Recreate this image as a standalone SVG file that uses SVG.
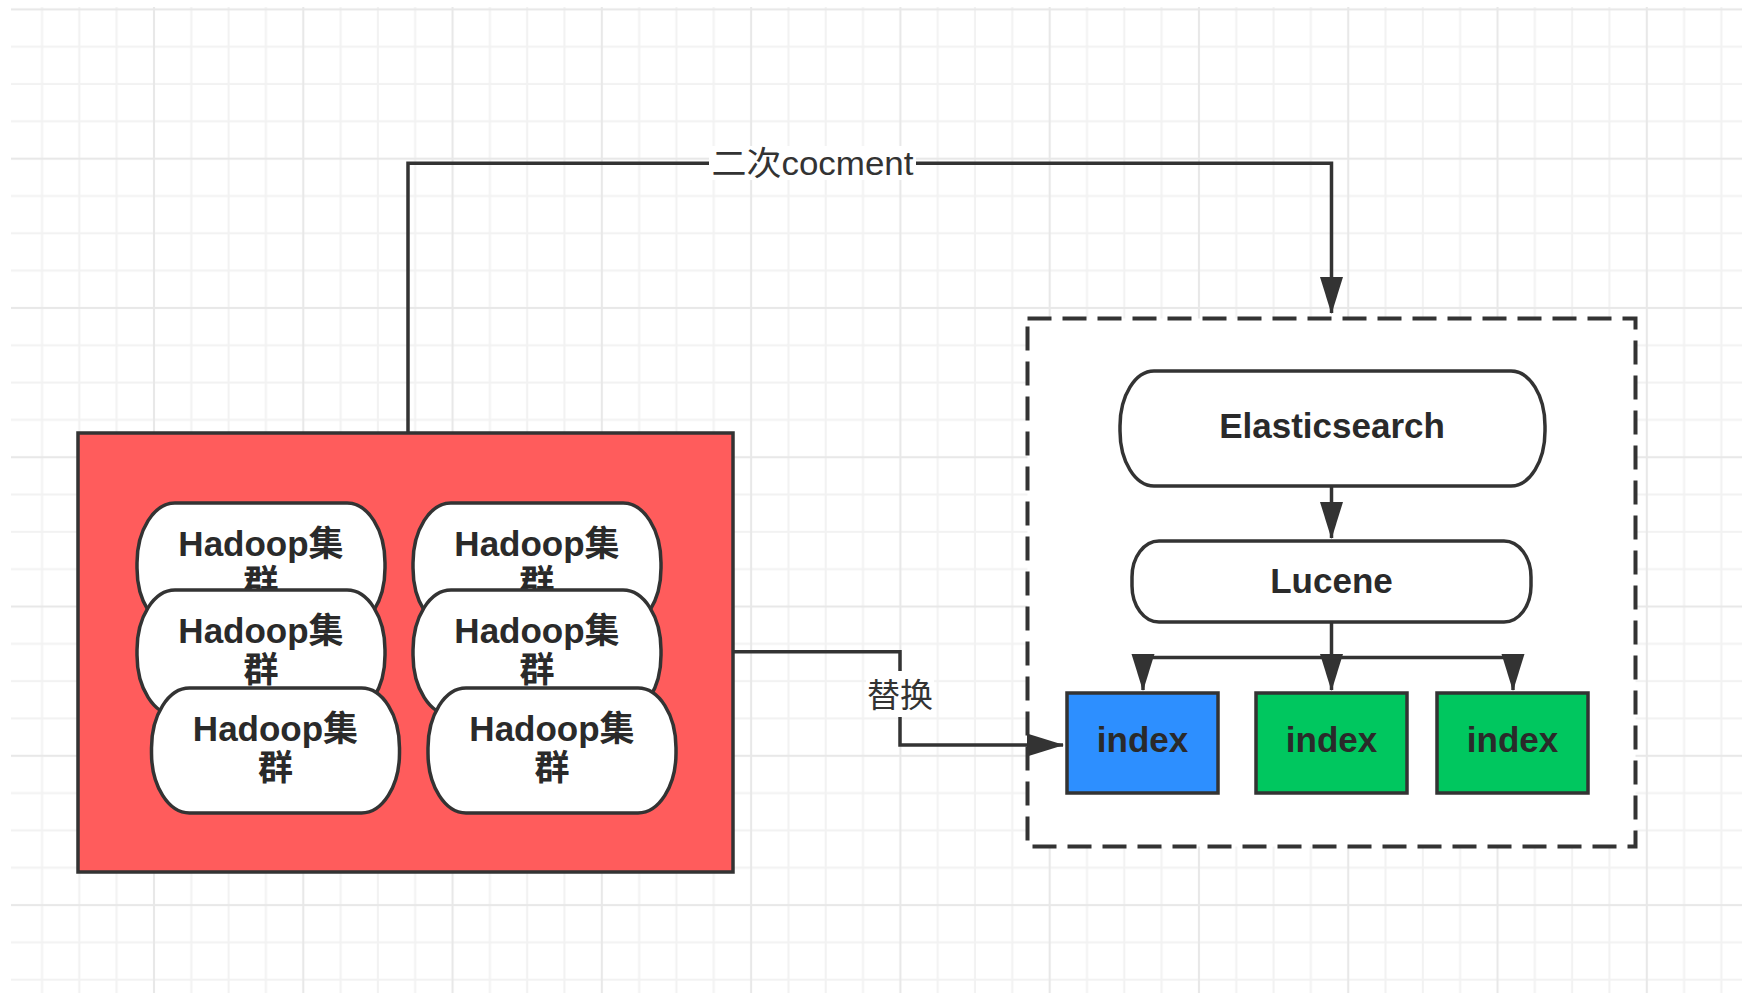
<svg xmlns="http://www.w3.org/2000/svg" width="1742" height="993" viewBox="0 0 1742 993">
<style>
.node{stroke:#333;stroke-width:3.5}
.pill{fill:#fff}
.t{font-family:"Liberation Sans","Noto Sans CJK SC",sans-serif;font-weight:bold;font-size:35px;fill:#2a2a2a;text-anchor:middle}
.lbl{font-family:"Liberation Sans","Noto Sans CJK SC",sans-serif;font-size:33px;fill:#333;text-anchor:middle}
.conn{fill:none;stroke:#333;stroke-width:3.5}
</style>
<defs>
<pattern id="grid" patternUnits="userSpaceOnUse" x="4.72" y="9.4" width="149.28" height="149.28">
<rect x="0" y="0" width="149.28" height="149.28" fill="#fff"/>
<g fill="#f2f2f2">
<rect x="36.3" y="0" width="2" height="149.28"/>
<rect x="73.6" y="0" width="2" height="149.28"/>
<rect x="110.9" y="0" width="2" height="149.28"/>
<rect x="0" y="36.3" width="149.28" height="2"/>
<rect x="0" y="73.6" width="149.28" height="2"/>
<rect x="0" y="110.9" width="149.28" height="2"/>
</g>
<g fill="#e8e8e8">
<rect x="-1" y="0" width="2" height="149.28"/>
<rect x="148.28" y="0" width="2" height="149.28"/>
<rect x="0" y="-1" width="149.28" height="2"/>
<rect x="0" y="148.28" width="149.28" height="2"/>
</g>
</pattern>
<marker id="arr" markerUnits="userSpaceOnUse" markerWidth="38" markerHeight="24" refX="36" refY="12" orient="auto" viewBox="0 0 38 24">
<path d="M0,0.5 L37,12 L0,23.5 Z" fill="#333"/>
</marker>
</defs>
<rect x="0" y="0" width="1742" height="993" fill="#fff"/>
<rect x="11" y="7" width="1731" height="986" fill="url(#grid)"/>

<g id="hadoop-group">
<rect x="78" y="433" width="655" height="439" fill="#ff5c5c" class="node"/>
</g>

<g id="es-group">
<rect x="1027.5" y="318.5" width="608" height="528" fill="#fff" stroke="#333" stroke-width="4" stroke-dasharray="24 11"/>
</g>

<g id="connectors">
<path class="conn" d="M408,433 V163.3 H1331.5 V313" marker-end="url(#arr)"/>
<rect x="709" y="146" width="207" height="34" fill="#fff"/>
<text class="lbl" x="812.5" y="175" textLength="202" lengthAdjust="spacingAndGlyphs">二次cocment</text>
<path class="conn" d="M733,651.7 H900 V745 H1063" marker-end="url(#arr)"/>
<rect x="866" y="671" width="68" height="46" fill="#fff"/>
<text class="lbl" x="900" y="707" font-size="32">替换</text>
<path class="conn" d="M1331.5,486 V538" marker-end="url(#arr)"/>
<path class="conn" d="M1331.5,622 V690" marker-end="url(#arr)"/>
<path class="conn" d="M1143,657.5 H1513"/>
<path class="conn" d="M1143,657.5 V690" marker-end="url(#arr)"/>
<path class="conn" d="M1513,657.5 V690" marker-end="url(#arr)"/>
</g>

<g id="hadoop-1">
<rect class="node pill" x="137" y="503" width="248" height="125" rx="38" ry="60"/>
<text class="t" x="261" y="555.5">Hadoop集<tspan x="261" dy="39">群</tspan></text>
</g>
<g id="hadoop-2">
<rect class="node pill" x="413" y="503" width="248" height="125" rx="38" ry="60"/>
<text class="t" x="537" y="555.5">Hadoop集<tspan x="537" dy="39">群</tspan></text>
</g>
<g id="hadoop-3">
<rect class="node pill" x="137" y="590" width="248" height="125" rx="38" ry="60"/>
<text class="t" x="261" y="642.5">Hadoop集<tspan x="261" dy="39">群</tspan></text>
</g>
<g id="hadoop-4">
<rect class="node pill" x="413" y="590" width="248" height="125" rx="38" ry="60"/>
<text class="t" x="537" y="642.5">Hadoop集<tspan x="537" dy="39">群</tspan></text>
</g>
<g id="hadoop-5">
<rect class="node pill" x="151.5" y="688" width="248" height="125" rx="38" ry="60"/>
<text class="t" x="275.5" y="741">Hadoop集<tspan x="275.5" dy="39">群</tspan></text>
</g>
<g id="hadoop-6">
<rect class="node pill" x="428" y="688" width="248" height="125" rx="38" ry="60"/>
<text class="t" x="552" y="741">Hadoop集<tspan x="552" dy="39">群</tspan></text>
</g>

<g id="elasticsearch">
<rect class="node pill" x="1120" y="371" width="425" height="115" rx="34" ry="55"/>
<text class="t" x="1332" y="437.5">Elasticsearch</text>
</g>
<g id="lucene">
<rect class="node pill" x="1132" y="541" width="399" height="81" rx="27" ry="36"/>
<text class="t" x="1331.5" y="593">Lucene</text>
</g>
<g id="index-1">
<rect class="node" x="1067" y="693" width="151" height="100" fill="#2d8fff"/>
<text class="t" x="1142.5" y="752">index</text>
</g>
<g id="index-2">
<rect class="node" x="1256" y="693" width="151" height="100" fill="#00c75f"/>
<text class="t" x="1331.5" y="752">index</text>
</g>
<g id="index-3">
<rect class="node" x="1437" y="693" width="151" height="100" fill="#00c75f"/>
<text class="t" x="1512.5" y="752">index</text>
</g>
</svg>
